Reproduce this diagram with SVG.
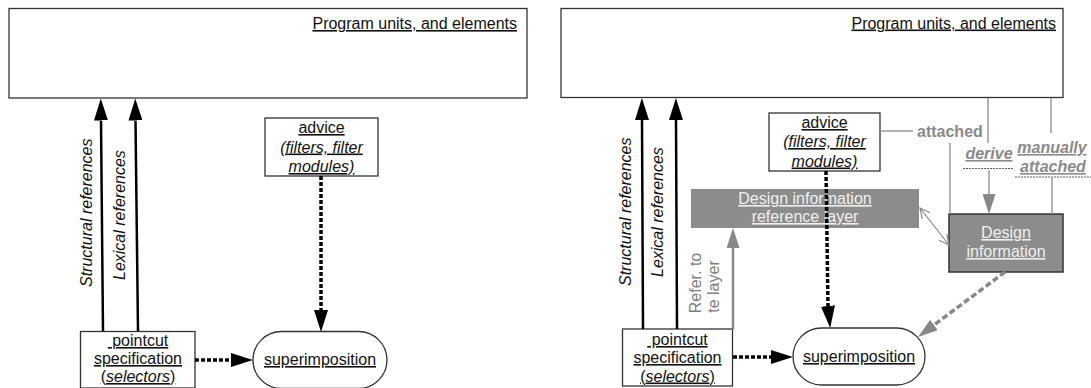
<svg xmlns="http://www.w3.org/2000/svg" width="1091" height="388" viewBox="0 0 1091 388">
<style>
text{font-family:"Liberation Sans",Arial,sans-serif;font-size:16px;fill:#111}
.u{text-decoration:underline}
.i{font-style:italic}
.m{text-anchor:middle}
.box{fill:#fff;stroke:#333;stroke-width:1.3}
.gbox{fill:#8c8c8c}
.dbox{fill:#8c8c8c;stroke:#333;stroke-width:1.5}
.wt{fill:#f0f0f0}
.gt{fill:#8a8a8a;font-weight:bold}
.rt{fill:#808080;font-size:16px}
.solid{stroke:#000;stroke-width:2.5;fill:none}
.dot{stroke:#000;stroke-width:3.5;stroke-dasharray:4 2;fill:none}
.gl{stroke:#9a9a9a;stroke-width:1.5;fill:none}
.gs{stroke:#888;stroke-width:2.5;fill:none}
.gd{stroke:#888;stroke-width:3.5;stroke-dasharray:6 3;fill:none}
.thin{stroke:#888;stroke-width:1.2;fill:none}
.ul{stroke:#333;stroke-width:0.8;stroke-dasharray:2 1;fill:none}
</style>
<defs>
<marker id="ab" markerUnits="userSpaceOnUse" markerWidth="22" markerHeight="14" refX="0" refY="7" orient="auto"><path d="M0,0 L22,7 L0,14 z" fill="#000"/></marker>
<marker id="ag" markerUnits="userSpaceOnUse" markerWidth="20" markerHeight="13" refX="0" refY="6.5" orient="auto"><path d="M0,0 L20,6.5 L0,13 z" fill="#888"/></marker>
<marker id="ao" markerUnits="userSpaceOnUse" markerWidth="12" markerHeight="12" refX="11" refY="6" orient="auto-start-reverse"><path d="M1,1 L11,6 L1,11" fill="none" stroke="#888" stroke-width="1.2"/></marker>
</defs>

<!-- LEFT PANEL -->
<g id="L-program">
<rect class="box" x="9" y="8.5" width="518" height="89.5"/>
<text class="u" x="517" y="29" text-anchor="end">Program units, and elements</text>
</g>
<g id="L-advice">
<rect class="box" x="265" y="118" width="113" height="58"/>
<text class="u m" x="321.5" y="133">advice</text>
<text class="u i m" x="321.5" y="152.5">(filters, filter</text>
<text class="u i m" x="321.5" y="172">modules)</text>
</g>
<g id="L-pointcut">
<rect class="box" x="80.5" y="331.5" width="114.5" height="56.5"/>
<text class="u m" x="138" y="346">&#160;pointcut</text>
<text class="u m" x="138" y="364">specification</text>
<text class="u m" x="138" y="382">(<tspan class="i">selectors</tspan>)</text>
</g>
<g id="L-superimposition">
<rect class="box" x="253" y="331.5" width="134" height="57" rx="28.5"/>
<text class="u m" x="320" y="365">superimposition</text>
</g>
<g id="L-connectors">
<line class="solid" x1="103" y1="331" x2="101" y2="120.5" marker-end="url(#ab)"/>
<line class="solid" x1="138" y1="331" x2="135.5" y2="120.5" marker-end="url(#ab)"/>
<text class="i" transform="translate(91.5,287) rotate(-90)">Structural references</text>
<text class="i" transform="translate(125,280) rotate(-90)">Lexical references</text>
<line class="dot" x1="321" y1="176" x2="321" y2="310"/>
<line x1="321" y1="309" x2="321" y2="310" stroke="none" marker-end="url(#ab)"/>
<line class="dot" x1="195" y1="360" x2="231" y2="360"/>
<line x1="230" y1="360" x2="231" y2="360" stroke="none" marker-end="url(#ab)"/>
</g>

<!-- RIGHT PANEL -->
<g id="R-program">
<rect class="box" x="561" y="8.5" width="502" height="89"/>
<text class="u" x="1056" y="28.5" text-anchor="end">Program units, and elements</text>
</g>
<g id="R-advice">
<rect class="box" x="769" y="113" width="111" height="58"/>
<text class="u m" x="824.5" y="128">advice</text>
<text class="u i m" x="824.5" y="147">(filters, filter</text>
<text class="u i m" x="824.5" y="166.5">modules)</text>
</g>
<g id="R-layer">
<rect class="gbox" x="691" y="189" width="228" height="39"/>
<text class="u m wt" x="805" y="204">Design information</text>
<text class="u m wt" x="805" y="222">reference layer</text>
</g>
<g id="R-design">
<rect class="dbox" x="949" y="214" width="114" height="58"/>
<text class="u m wt" x="1006" y="238">Design</text>
<text class="u m wt" x="1006" y="257">information</text>
</g>
<g id="R-pointcut">
<rect class="box" x="622.5" y="329" width="110" height="57"/>
<text class="u m" x="677.5" y="345">&#160;pointcut</text>
<text class="u m" x="677.5" y="363">specification</text>
<text class="u m" x="677.5" y="381.5">(<tspan class="i">selectors</tspan>)</text>
</g>
<g id="R-superimposition">
<rect class="box" x="793" y="328" width="132" height="57" rx="28.5"/>
<text class="u m" x="859" y="362">superimposition</text>
</g>
<g id="R-connectors">
<line class="solid" x1="643" y1="329" x2="642" y2="120" marker-end="url(#ab)"/>
<line class="solid" x1="677" y1="329" x2="676" y2="120" marker-end="url(#ab)"/>
<text class="i" transform="translate(631,286) rotate(-90)">Structural references</text>
<text class="i" transform="translate(663,277) rotate(-90)">Lexical references</text>
<line class="gs" x1="733" y1="329" x2="733" y2="248" marker-end="url(#ag)"/>
<text class="rt m" transform="translate(701,283) rotate(-90)">Refer. to</text>
<text class="rt m" transform="translate(718.5,286.5) rotate(-90)">te layer</text>
<line class="dot" x1="826" y1="171" x2="828" y2="306"/>
<line x1="827.9" y1="305" x2="828" y2="306" stroke="none" marker-end="url(#ab)"/>
<line class="dot" x1="733" y1="357" x2="771" y2="357"/>
<line x1="770" y1="357" x2="771" y2="357" stroke="none" marker-end="url(#ab)"/>
<line class="thin" x1="920" y1="208" x2="949" y2="245" marker-start="url(#ao)" marker-end="url(#ao)"/>
<line class="gd" x1="1005" y1="272" x2="934" y2="325"/>
<line x1="934.8" y1="324.4" x2="934" y2="325" stroke="none" marker-end="url(#ag)"/>
<line class="gl" x1="880" y1="131" x2="913" y2="131"/>
<text class="gt" x="917" y="137">attached</text>
<line class="gl" x1="950" y1="143" x2="950" y2="214"/>
<line class="gl" x1="988" y1="98" x2="988" y2="143"/>
<text class="gt i u m" x="989" y="159">derive</text>
<line class="ul" x1="963" y1="168.5" x2="1013" y2="168.5"/>
<line class="gl" x1="989" y1="170" x2="989" y2="194" marker-end="url(#ag)"/>
<line class="gl" x1="1051" y1="98" x2="1051" y2="133"/>
<text class="gt i u m" x="1052" y="153">manually</text>
<text class="gt i u m" x="1053" y="172">attached</text>
<line class="ul" x1="1015" y1="177" x2="1091" y2="177"/>
<line class="gl" x1="1052" y1="178" x2="1052" y2="214"/>
</g>
</svg>
